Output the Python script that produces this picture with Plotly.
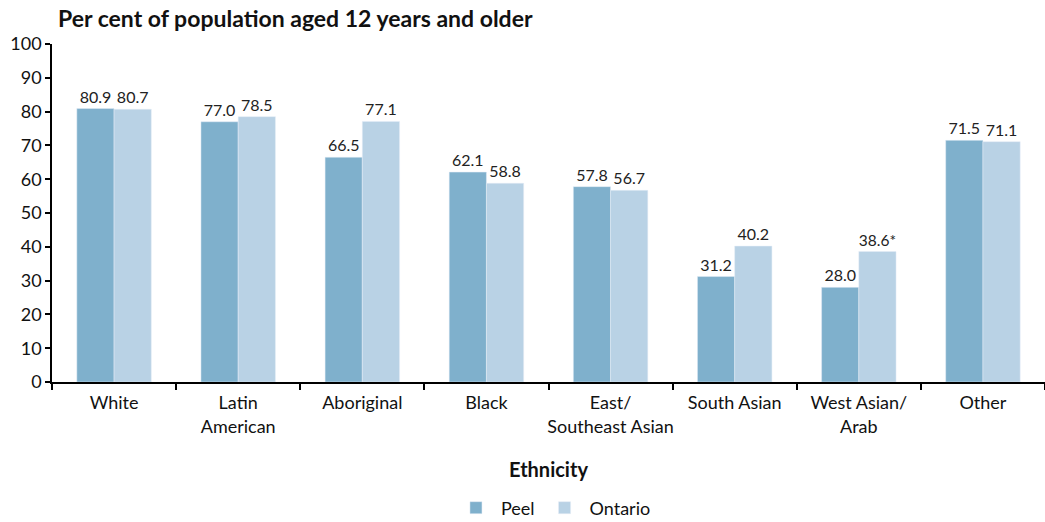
import plotly.graph_objects as go

categories = ["White", "Latin<br>American", "Aboriginal", "Black", "East/<br>Southeast Asian",
              "South Asian", "West Asian/<br>Arab", "Other"]
peel = [80.9, 77.0, 66.5, 62.1, 57.8, 31.2, 28.0, 71.5]
ontario = [80.7, 78.5, 77.1, 58.8, 56.7, 40.2, 38.6, 71.1]
ontario_labels = ["80.7", "78.5", "77.1", "58.8", "56.7", "40.2", "38.6*", "71.1"]
peel_labels = [f"{v:.1f}" for v in peel]

FONT = "Lato, 'Noto Sans', sans-serif"

fig = go.Figure()
fig.add_trace(go.Bar(x=categories, y=peel, name="Peel", marker_color="#7fb0cc",
                     text=peel_labels, textposition="outside", cliponaxis=False,
                     textfont=dict(size=16, color="#222")))
fig.add_trace(go.Bar(x=categories, y=ontario, name="Ontario", marker_color="#b9d2e5",
                     text=ontario_labels, textposition="outside", cliponaxis=False,
                     textfont=dict(size=16, color="#222")))

fig.update_layout(
    width=1045, height=522,
    margin=dict(l=52, r=0, t=44, b=140, autoexpand=False),
    paper_bgcolor="white", plot_bgcolor="white",
    font=dict(family=FONT, size=18, color="#111"),
    barmode="group", bargap=0.4, bargroupgap=0,
    showlegend=True,
    legend=dict(orientation="h", x=0.505, xanchor="center", yref="paper",
                y=-0.318, yanchor="top", font=dict(size=18), traceorder="normal",
                itemwidth=40),
    xaxis=dict(showline=True, linecolor="black", linewidth=1.5, ticks="outside",
               tickson="boundaries", ticklen=6, tickcolor="black", tickwidth=1.5,
               tickangle=0, automargin=False, ticklabelstandoff=4,
               title=dict(text="<b>Ethnicity</b>", font=dict(size=20), standoff=27),
               tickfont=dict(size=18)),
    yaxis=dict(range=[0, 100], dtick=10, showline=True, linecolor="black", linewidth=1.5,
               ticks="outside", ticklen=5, tickcolor="black", tickwidth=1.5,
               showgrid=False, zeroline=False, tickfont=dict(size=18), automargin=False),
    annotations=[dict(text="<b>Per cent of population aged 12 years and older</b>",
                      xref="paper", yref="paper", x=0.004, y=1.0, yshift=10,
                      xanchor="left", yanchor="bottom", showarrow=False,
                      font=dict(size=23, color="#111"))],
)

fig.write_html("out.html")
